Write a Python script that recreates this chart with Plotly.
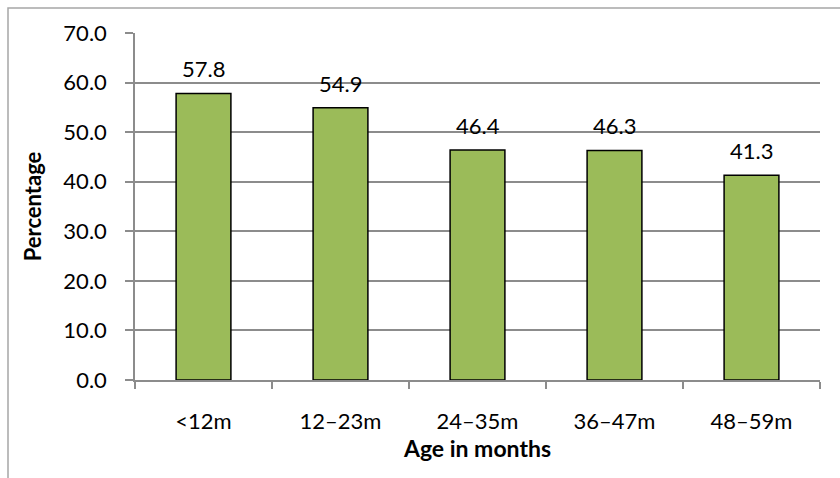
import plotly.graph_objects as go

categories = ["<12m", "12–23m", "24–35m", "36–47m", "48–59m"]
values = [57.8, 54.9, 46.4, 46.3, 41.3]
y_ticks = [0, 10, 20, 30, 40, 50, 60, 70]
y_tick_labels = [f"{v:.1f}" for v in y_ticks]

FONT = "Lato, Carlito, 'Open Sans', sans-serif"
GRID = "#8c8c8c"

fig = go.Figure()
fig.add_trace(go.Bar(
    x=categories, y=values,
    marker=dict(color="#9BBB59", line=dict(color="#000000", width=1.5)),
    width=0.4,
    hoverinfo="x+y",
))

for c, v in zip(categories, values):
    fig.add_annotation(x=c, y=v, text=f"{v:.1f}", showarrow=False,
                       yanchor="bottom", yshift=9,
                       font=dict(family=FONT, size=22, color="#000000"))

# outer chart frame (partially cut off at right and bottom)
fig.add_shape(type="rect", xref="paper", yref="paper",
              x0=(8 - 135) / 685, x1=1.2, y0=-0.5, y1=(380 - 8) / 347,
              line=dict(color="#a6a6a6", width=1.5), fillcolor="rgba(0,0,0,0)",
              layer="below")

fig.update_layout(
    width=840, height=478,
    margin=dict(l=135, r=20, t=33, b=98),
    paper_bgcolor="white", plot_bgcolor="white",
    showlegend=False,
    font=dict(family=FONT, size=22, color="#000000"),
    bargap=0.6,
    xaxis=dict(
        title=dict(text="<b>Age in months</b>", font=dict(family=FONT, size=23), standoff=7),
        showline=True, linecolor=GRID, linewidth=1.5,
        ticks="outside", ticklen=7, tickcolor=GRID, tickwidth=1.5,
        tickson="boundaries", ticklabelstandoff=21,
        showgrid=False, automargin=False,
        tickfont=dict(family=FONT, size=22),
    ),
    yaxis=dict(
        title=dict(text="<b>Percentage</b>", font=dict(family=FONT, size=22), standoff=16),
        range=[0, 70], tickvals=y_ticks, ticktext=y_tick_labels,
        showline=True, linecolor=GRID, linewidth=1.5,
        ticks="outside", ticklen=8, tickcolor=GRID, tickwidth=1.5,
        ticklabelstandoff=14, automargin=False,
        showgrid=True, gridcolor=GRID, gridwidth=1.5,
        zeroline=False,
        tickfont=dict(family=FONT, size=22),
    ),
)

fig.write_html("out.html", config={"displayModeBar": False},
               post_script="document.body.style.margin='0';")
